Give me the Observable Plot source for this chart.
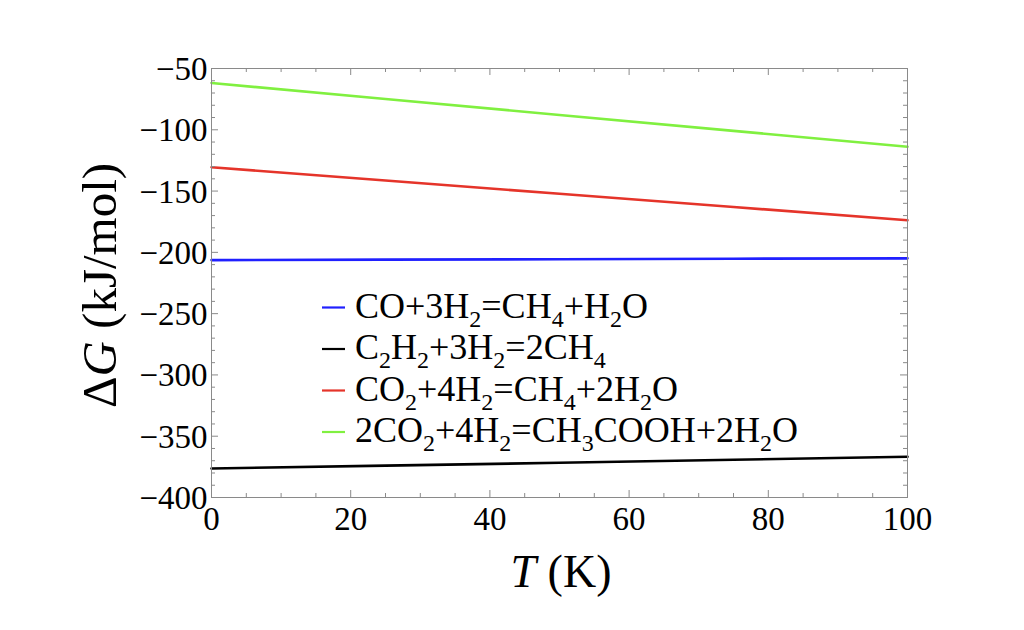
<!DOCTYPE html>
<html><head><meta charset="utf-8">
<script src="https://cdn.jsdelivr.net/npm/d3@7"></script>
<script src="https://cdn.jsdelivr.net/npm/@observablehq/plot@0.6"></script>
<style>body{margin:0;background:#fff;} svg{display:block;} svg text{font-family:"Liberation Serif","Times New Roman",serif;}</style>
</head><body><div id="chart"></div>
<script>
// ---- data ----
const temps = [0, 25, 50, 75, 100];
const seriesNames = ["CO+3H2=CH4+H2O", "C2H2+3H2=2CH4", "CO2+4H2=CH4+2H2O", "2CO2+4H2=CH3COOH+2H2O"];
const seriesColors = ["#2020ff", "#000000", "#e5342a", "#80f040"];
const dG_CO = [-206.3, -205.9, -205.6, -205.2, -204.9];
const dG_C2H2 = [-376.3, -374.0, -371.7, -369.2, -366.7];
const dG_CO2 = [-130.6, -141.4, -152.2, -163.0, -173.8];
const dG_AcOH = [-61.8, -74.9, -87.9, -100.9, -113.8];
const seriesValues = [dG_CO, dG_C2H2, dG_CO2, dG_AcOH];
const xMajor = [0, 20, 40, 60, 80, 100];
const yMajor = [-400, -350, -300, -250, -200, -150, -100, -50];
const xMinor = d3.range(0, 101, 5).filter(v => v % 20 !== 0);
const yMinor = d3.range(-400, -49, 10).filter(v => v % 50 !== 0);
const xTitle = ["T", " (K)"];
const yTitle = ["Δ", "G", " (kJ/mol)"];

const rows = [];
seriesNames.forEach((s, i) => temps.forEach((t, j) => rows.push({T: t, dG: seriesValues[i][j], series: s})));

// ---- layout ----
const W = 1024, H = 630, mL = 211, mR = 117, mT = 68, mB = 133;
const fw = W - mL - mR, fh = H - mT - mB;
const grey = "#8a8a8a";
const serif = "Liberation Serif";
const major = 7, minor = 4;
const fmt = d => d < 0 ? "\u2212" + Math.abs(d) : String(d);

const plot = Plot.plot({
  width: W, height: H,
  marginLeft: mL, marginRight: mR, marginTop: mT, marginBottom: mB,
  style: {fontFamily: serif, background: "white", color: "black"},
  x: {domain: [0, 100], axis: null},
  y: {domain: [-400, -50], axis: null},
  color: {domain: seriesNames, range: seriesColors},
  marks: [
    Plot.line(rows, {x: "T", y: "dG", z: "series", stroke: "series", strokeWidth: 2.6}),
    Plot.frame({stroke: grey, strokeWidth: 1}),
    Plot.tickX(xMajor, {x: d => d, stroke: grey, insetTop: fh - major}),
    Plot.tickX(xMinor, {x: d => d, stroke: grey, insetTop: fh - minor}),
    Plot.tickX(xMajor, {x: d => d, stroke: grey, insetBottom: fh - major}),
    Plot.tickX(xMinor, {x: d => d, stroke: grey, insetBottom: fh - minor}),
    Plot.tickY(yMajor, {y: d => d, stroke: grey, insetRight: fw - major}),
    Plot.tickY(yMinor, {y: d => d, stroke: grey, insetRight: fw - minor}),
    Plot.tickY(yMajor, {y: d => d, stroke: grey, insetLeft: fw - major}),
    Plot.tickY(yMinor, {y: d => d, stroke: grey, insetLeft: fw - minor}),
    Plot.axisX(xMajor, {tickSize: 0, tickPadding: 9, fontSize: 33, tickFormat: fmt, fill: "black", label: null}),
    Plot.axisY(yMajor, {tickSize: 0, tickPadding: 4, fontSize: 33, tickFormat: fmt, fill: "black", label: null, dy: 1})
  ]
});
document.getElementById("chart").appendChild(plot);

const svg = d3.select(plot);

// axis titles
const xt = svg.append("text").attr("x", mL + fw / 2 + 2).attr("y", 587)
  .attr("text-anchor", "middle").attr("font-size", 46).attr("fill", "black");
xt.append("tspan").attr("font-style", "italic").text(xTitle[0]);
xt.append("tspan").text(xTitle[1]);

const yt = svg.append("text").attr("transform", `translate(116,${mT + fh / 2 + 3}) rotate(-90)`)
  .attr("text-anchor", "middle").attr("font-size", 49).attr("fill", "black");
yt.append("tspan").text(yTitle[0]);
yt.append("tspan").attr("font-style", "italic").text(yTitle[1]);
yt.append("tspan").text(yTitle[2]);

// legend
const legX = 322, legY0 = 307.5, legStep = 41.5, subShift = 9;
const leg = svg.append("g").attr("text-anchor", "start");
seriesNames.forEach((name, i) => {
  const y = legY0 + i * legStep;
  leg.append("line").attr("x1", legX).attr("x2", legX + 23).attr("y1", y).attr("y2", y)
    .attr("stroke", seriesColors[i]).attr("stroke-width", 2.2);
  const t = leg.append("text").attr("x", legX + 33).attr("y", y + 10).attr("fill", "black")
    .attr("text-anchor", "start").attr("font-size", 36);
  const runs = [];
  for (let k = 0; k < name.length; k++) {
    const c = name[k];
    const prev = k > 0 ? name[k - 1] : "";
    const sub = /[0-9]/.test(c) && /[A-Za-z]/.test(prev);
    if (runs.length && runs[runs.length - 1].sub === sub) runs[runs.length - 1].s += c;
    else runs.push({s: c, sub});
  }
  let shifted = false;
  runs.forEach(r => {
    const ts = t.append("tspan").text(r.s);
    if (r.sub) { ts.attr("font-size", 24).attr("dy", subShift); shifted = true; }
    else if (shifted) { ts.attr("dy", -subShift); shifted = false; }
  });
});
svg.selectAll("text").style("font-family", "'Liberation Serif', 'Times New Roman', serif");
</script>
</body></html>
